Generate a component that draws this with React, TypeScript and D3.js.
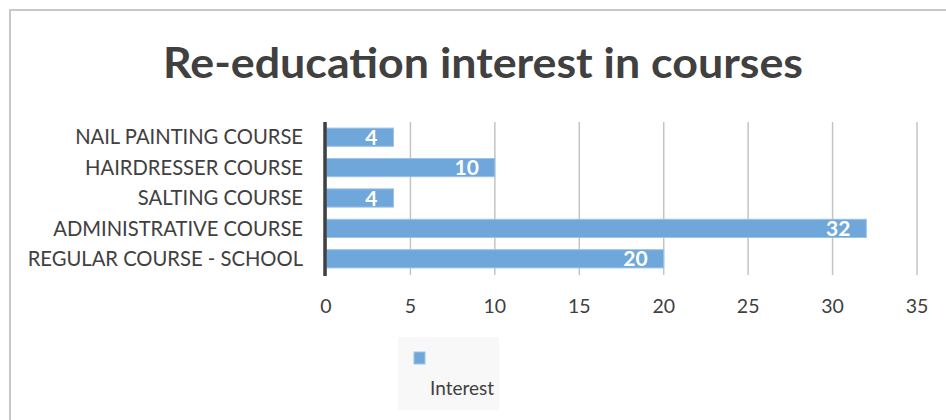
import React from "react";
import * as d3 from "d3";

const categories = [
  "NAIL PAINTING COURSE",
  "HAIRDRESSER COURSE",
  "SALTING COURSE",
  "ADMINISTRATIVE COURSE",
  "REGULAR COURSE - SCHOOL",
];
const values = [4, 10, 4, 32, 20];
const xTicks = [0, 5, 10, 15, 20, 25, 30, 35];
const seriesName = "Interest";
const title = "Re-education interest in courses";

const W = 946;
const H = 420;
const FONT = "Lato, 'Open Sans', sans-serif";
const BAR = "#70a7db";
const TEXT = "#404040";

export default function App() {
  const x = d3.scaleLinear().domain([0, 35]).range([326, 917]);
  const y = d3.scaleBand().domain(categories).range([122, 274]).paddingInner(0.4).paddingOuter(0.2);

  return (
    <div style={{ position: "absolute", left: 0, top: 0 }}>
      <svg width={W} height={H} style={{ display: "block", background: "#fff" }}>
        <rect x={10} y={10} width={W} height={H} fill="#fff" stroke="#c8c8c8" strokeWidth={2} />
        <text
          x={483}
          y={78}
          textAnchor="middle"
          fontFamily={FONT}
          fontWeight="bold"
          fontSize={42}
          fill={TEXT}
          textLength={640}
          lengthAdjust="spacingAndGlyphs"
        >
          {title}
        </text>
        {xTicks.map((t) => (
          <line key={"g" + t} x1={x(t)} x2={x(t)} y1={122} y2={275} stroke="#c4c4c4" strokeWidth={1.5} />
        ))}
        {categories.map((c, i) => (
          <rect
            key={"b" + c}
            x={x(0)}
            y={y(c)!}
            width={x(values[i]) - x(0)}
            height={y.bandwidth()}
            fill={BAR}
            stroke="#9cc3e8"
            strokeWidth={1}
          />
        ))}
        <line x1={x(0) - 1} x2={x(0) - 1} y1={122} y2={276} stroke={TEXT} strokeWidth={3.5} />
        {categories.map((c, i) => (
          <text
            key={"v" + c}
            x={x(values[i]) - 16}
            y={y(c)! + y.bandwidth() / 2}
            dy="0.36em"
            textAnchor="end"
            fontFamily={FONT}
            fontWeight="bold"
            fontSize={21}
            fill="#fff"
          >
            {values[i]}
          </text>
        ))}
        {categories.map((c) => (
          <text
            key={"l" + c}
            x={303}
            y={y(c)! + y.bandwidth() / 2}
            dy="0.36em"
            textAnchor="end"
            fontFamily={FONT}
            fontSize={20.2}
            fill={TEXT}
          >
            {c}
          </text>
        ))}
        {xTicks.map((t) => (
          <text
            key={"t" + t}
            x={x(t)}
            y={306}
            dy="0.36em"
            textAnchor="middle"
            fontFamily={FONT}
            fontSize={19.5}
            fill={TEXT}
          >
            {t}
          </text>
        ))}
        <rect x={398} y={337} width={101} height={73} fill="#f8f8f8" />
        <rect x={414} y={352} width={11} height={12} fill={BAR} stroke="#9cc3e8" strokeWidth={1} />
        <text x={430} y={395} fontFamily={FONT} fontSize={19} fill={TEXT}>
          {seriesName}
        </text>
      </svg>
    </div>
  );
}
